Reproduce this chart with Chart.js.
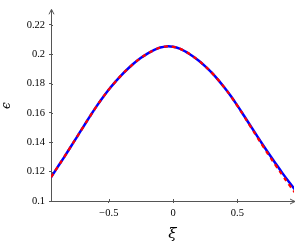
<!DOCTYPE html>
<html>
<head>
<meta charset="utf-8">
<script src="https://cdn.jsdelivr.net/npm/chart.js@4"></script>
<style>
html,body{margin:0;padding:0;background:#fff;}
#wrap{width:295px;height:245px;position:relative;}
</style>
</head>
<body>
<div id="wrap"><canvas id="c" width="295" height="245"></canvas></div>
<script>
const xi = [-0.95,-0.9,-0.85,-0.8,-0.75,-0.7,-0.65,-0.6,-0.55,-0.5,-0.45,-0.4,-0.35,-0.3,-0.25,-0.2,-0.15,-0.1,-0.05,0,0.05,0.1,0.15,0.2,0.25,0.3,0.35,0.4,0.45,0.5,0.55,0.6,0.65,0.7,0.75,0.8,0.85,0.9,0.95];
const epsBlue = [0.1162,0.1229,0.1296,0.1365,0.1434,0.1504,0.1573,0.1640,0.1702,0.1760,0.1812,0.1860,0.1903,0.1942,0.1976,0.2005,0.2028,0.2046,0.2054,0.2051,0.2039,0.2017,0.1989,0.1956,0.1918,0.1875,0.1826,0.1772,0.1714,0.1650,0.1583,0.1515,0.1447,0.1380,0.1315,0.1252,0.1190,0.1131,0.1075];
const epsRed = [0.1162,0.1229,0.1296,0.1365,0.1434,0.1504,0.1573,0.1640,0.1702,0.1760,0.1812,0.1860,0.1903,0.1942,0.1976,0.2005,0.2028,0.2046,0.2054,0.2051,0.2039,0.2017,0.1989,0.1956,0.1918,0.1875,0.1826,0.1772,0.1713,0.1648,0.1580,0.1510,0.1441,0.1372,0.1305,0.1240,0.1176,0.1113,0.1055];
const xTicks = [-0.5, 0, 0.5];
const yTicks = [0.1, 0.12, 0.14, 0.16, 0.18, 0.2, 0.22];
const xRange = [-0.95, 0.94];
const yRange = [0.1, 0.23];

const axisColor = '#555555';
const pts = (xs, ys) => xs.map((x, i) => ({x: x, y: ys[i]}));

const axisExtras = {
  id: 'axisExtras',
  afterDraw(chart) {
    const ctx = chart.ctx;
    const a = chart.chartArea;
    const xs = chart.scales.x, ys = chart.scales.y;
    ctx.save();
    ctx.strokeStyle = axisColor;
    ctx.lineWidth = 1;
    ctx.beginPath();
    xTicks.forEach(v => { const p = Math.round(xs.getPixelForValue(v)) + 0.5; ctx.moveTo(p, a.bottom); ctx.lineTo(p, a.bottom - 2); });
    yTicks.forEach(v => { const p = Math.round(ys.getPixelForValue(v)) + 0.5; ctx.moveTo(a.left, p); ctx.lineTo(a.left + 2, p); });
    ctx.stroke();
    ctx.beginPath();
    ctx.moveTo(a.left + 0.5, a.top - 1);
    ctx.lineTo(a.left - 2, a.top + 4);
    ctx.moveTo(a.left + 0.5, a.top - 1);
    ctx.lineTo(a.left + 3, a.top + 4);
    ctx.moveTo(a.right + 1, a.bottom + 0.5);
    ctx.lineTo(a.right - 4, a.bottom - 2);
    ctx.moveTo(a.right + 1, a.bottom + 0.5);
    ctx.lineTo(a.right - 4, a.bottom + 3);
    ctx.stroke();
    ctx.restore();
  }
};

new Chart(document.getElementById('c'), {
  type: 'scatter',
  data: {
    datasets: [
      {data: pts(xi, epsRed), showLine: true, borderColor: '#ff0000', borderWidth: 2.3, borderDash: [4, 4], pointRadius: 0, tension: 0.4, fill: false},
      {data: pts(xi, epsBlue), showLine: true, borderColor: '#0000ff', borderWidth: 2.5, pointRadius: 0, tension: 0.4, fill: false}
    ]
  },
  options: {
    responsive: false,
    animation: false,
    devicePixelRatio: 1,
    layout: {padding: {top: 0, right: 1, left: 0, bottom: 0}},
    plugins: {legend: {display: false}, tooltip: {enabled: false}},
    scales: {
      x: {
        type: 'linear', min: xRange[0], max: xRange[1],
        afterBuildTicks: s => { s.ticks = xTicks.map(v => ({value: v})); },
        afterFit: s => { s.height = 44; },
        border: {display: true, color: axisColor, width: 1},
        grid: {drawOnChartArea: false, drawTicks: true, tickLength: 2, color: axisColor},
        ticks: {
          color: '#000', padding: 4, maxRotation: 0,
          font: {family: 'Liberation Serif', size: 10.5},
          callback: v => v === 0 ? '0' : (v < 0 ? '\u2212' + Math.abs(v) : String(v))
        },
        title: {display: true, text: 'ξ', color: '#000', font: {family: 'DejaVu Serif', size: 15, style: 'italic'}, padding: {top: 0, bottom: 2}}
      },
      y: {
        type: 'linear', min: yRange[0], max: yRange[1],
        afterBuildTicks: s => { s.ticks = yTicks.map(v => ({value: v})); },
        afterFit: s => { s.width = 51; },
        border: {display: true, color: axisColor, width: 1},
        grid: {drawOnChartArea: false, drawTicks: true, tickLength: 2, color: axisColor},
        ticks: {
          color: '#000', padding: 4,
          font: {family: 'Liberation Serif', size: 10.5},
          callback: v => String(Math.round(v * 100) / 100)
        },
        title: {display: true, text: 'ϵ', color: '#000', font: {family: 'DejaVu Serif', size: 12, style: 'italic'}, padding: {top: 0, bottom: 0}}
      }
    }
  },
  plugins: [axisExtras]
});
</script>
</body>
</html>
